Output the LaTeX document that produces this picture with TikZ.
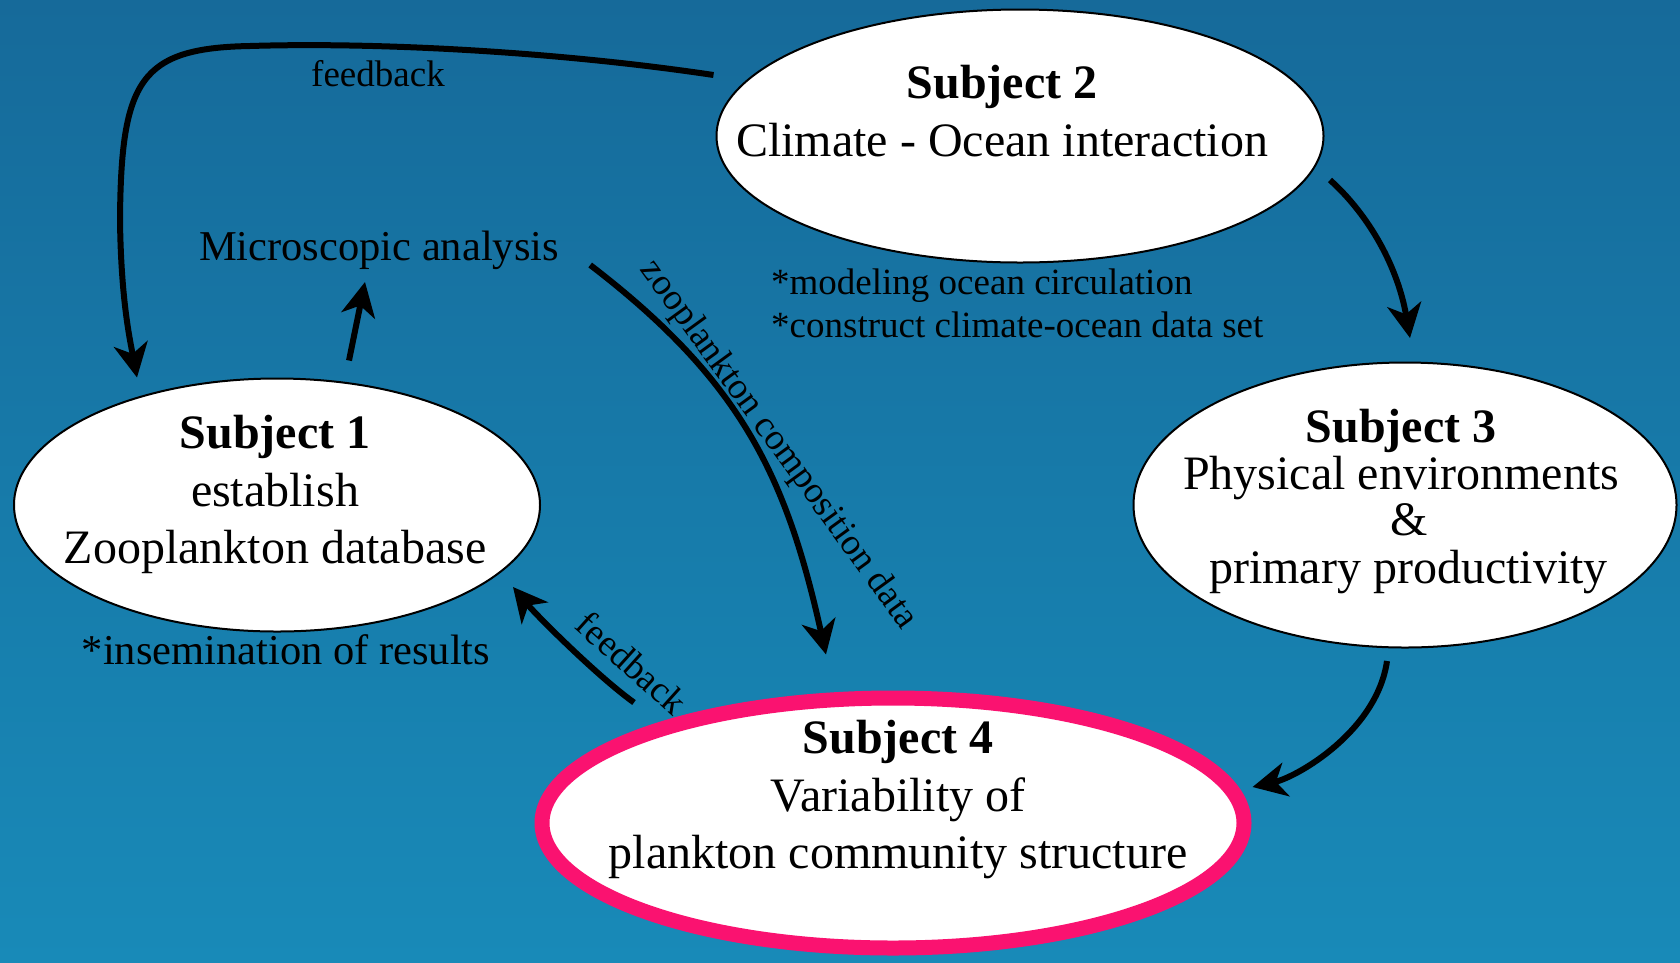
\documentclass[tikz,border=0pt]{standalone}
\usepackage{fontspec}
\setmainfont{Liberation Serif}
\usetikzlibrary{shapes.geometric,arrows.meta,calc}
\definecolor{pinkb}{RGB}{250,18,112}
\definecolor{bgtop}{RGB}{22,106,154}
\definecolor{bgbot}{RGB}{24,138,184}
\tikzset{
  subj/.style={ellipse, draw=black, line width=2pt, fill=white, inner sep=0pt},
  conn/.style={line width=6pt, -{Stealth[length=34pt,width=34pt,inset=10pt]}},
  big/.style={font=\fontsize{48}{57.5}\selectfont, inner sep=0pt},
  bigtight/.style={font=\fontsize{48}{46.3}\selectfont, inner sep=0pt},
  ann/.style={font=\fontsize{37}{43}\selectfont, inner sep=0pt},
  mid/.style={font=\fontsize{42.5}{50}\selectfont, inner sep=0pt},
}
\begin{document}
\begin{tikzpicture}[x=1pt,y=-1pt]
\useasboundingbox (0,0) rectangle (1680,962);
\shade[top color=bgtop, bottom color=bgbot] (0,0) rectangle (1680,962);

% subjects
\node[subj, minimum width=526, minimum height=253] (s1) at (277,505) {};
\node[subj, minimum width=607, minimum height=253] (s2) at (1020,136) {};
\node[subj, minimum width=543, minimum height=285] (s3) at (1405,505) {};
\node[subj, draw=pinkb, line width=15pt, minimum width=702, minimum height=250] (s4) at (893,823) {};

\node[big] (t1) at (275,494.5) {\begin{tabular}{@{}c@{}}\textbf{Subject 1}\\establish\\Zooplankton database\end{tabular}};
\node[big] (t2) at (1002,116) {\begin{tabular}{@{}c@{}}\textbf{Subject 2}\\Climate - Ocean interaction\end{tabular}};
\node[bigtight] (t3) at (1401,503) {\begin{tabular}{@{}c@{}}\textbf{Subject 3}\\Physical environments\\\hspace*{17pt}\&\\\hspace*{15pt}primary productivity\end{tabular}};
\node[big] (t4) at (898,799.5) {\begin{tabular}{@{}c@{}}\textbf{Subject 4}\\Variability of\\plankton community structure\end{tabular}};

% annotations
\node[ann, anchor=base] (fb1) at (378,86) {feedback};
\node[mid, anchor=base] (micro) at (379,260) {Microscopic analysis};
\node[ann, anchor=base west] (m1) at (771,294) {*modeling ocean circulation};
\node[ann, anchor=base west] (m2) at (771,337) {*construct climate-ocean data set};
\node[mid, anchor=base] (ins) at (286,664) {*insemination of results};
\node[ann, rotate=-54] (zc) at (778,445) {zooplankton composition data};
\node[ann, rotate=-42] (fb2) at (632,663) {feedback};

% connectors
\draw[conn] ($(s2.west)+(-2,-61)$) .. controls (560,52) and (380,42) .. (250,46)
   .. controls (140,48) and (121,80) .. (120,220)
   .. controls (121,300) and (130,340) .. ($(s1.north)+(-140,0)$);
\draw[conn] ($(s1.north)+(72,-17)$) -- ($(micro.base)+(-14,22)$);
\draw[conn] ($(micro.base east)+(31,5)$) .. controls +(150,115) and +(-40,-180) .. ($(s4.north)+(-67,-36)$);
\draw[conn] ($(s2.east)+(5.5,44)$) .. controls +(40,36) and +(-12,-70) .. ($(s3.north)+(5,-23.5)$);
\draw[conn] ($(s3.south)+(-18,12.5)$) .. controls +(-10,70) and +(45,-10) .. ($(s4.east)+(1,-36)$);
\draw[conn] ($(s4.north)+(-259,12)$) .. controls +(-35,-25) and +(25,30) .. ($(s1.east)+(-28,82)$);
\end{tikzpicture}
\end{document}
